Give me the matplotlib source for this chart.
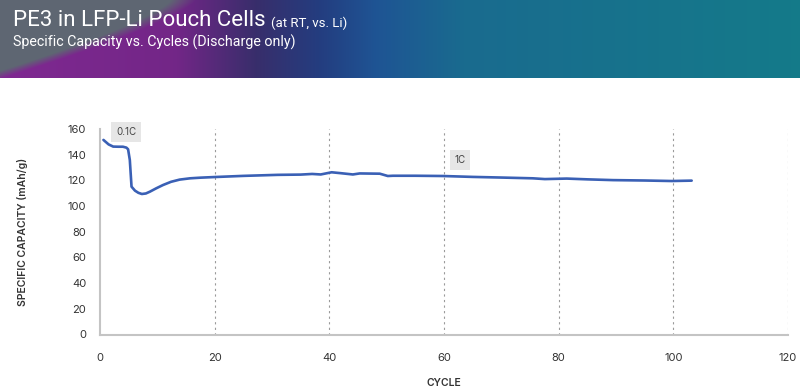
import numpy as np
import matplotlib
matplotlib.use('Agg')
import matplotlib.pyplot as plt

# cycle / specific capacity (mAh/g)
cycles = [0.6, 1.5, 2.3, 3.2, 4.0, 4.6, 4.9, 5.2, 5.5, 6.1, 6.7, 7.3, 8.0, 8.7, 9.8, 11.0,
          12.4, 13.9, 15.7, 17.5, 20, 25, 31, 35, 37, 38.5, 40.4, 42, 44.1, 45.3, 47,
          48.8, 50.2, 51.1, 55, 59.8, 65, 70, 75.5, 77.6, 81.4, 85, 89.5, 95, 99.7, 103.2]
capacity = [151.5, 148.0, 146.3, 146.2, 146.2, 145.5, 144.2, 135.9, 115.1, 112.0, 110.3,
            109.4, 109.8, 111.2, 113.8, 116.4, 118.9, 120.6, 121.6, 122.1, 122.6, 123.5,
            124.3, 124.5, 125.0, 124.6, 126.3, 125.6, 124.6, 125.4, 125.3, 125.2, 123.4,
            123.6, 123.6, 123.4, 122.7, 122.2, 121.6, 121.0, 121.4, 120.8, 120.2, 119.9,
            119.5, 119.8]

x_ticks = [0, 20, 40, 60, 80, 100, 120]
y_ticks = [0, 20, 40, 60, 80, 100, 120, 140, 160]

fig = plt.figure(figsize=(8, 3.92), dpi=100)

# header banner (gradient)
ban = fig.add_axes([0, 1 - 78 / 392, 1, 78 / 392])
W, H = 800, 78
xs = np.linspace(0, 1, W)
stops = [0.0, 0.22, 0.32, 0.40, 0.47, 0.58, 1.0]
cols = np.array([[0.50, 0.16, 0.57], [0.45, 0.15, 0.53], [0.22, 0.18, 0.42],
                 [0.14, 0.24, 0.50], [0.12, 0.33, 0.58], [0.10, 0.42, 0.56],
                 [0.08, 0.48, 0.54]])
row = np.stack([np.interp(xs, stops, cols[:, k]) for k in range(3)], axis=-1)
img = np.repeat(row[None, :, :], H, axis=0)
yy, xx = np.mgrid[0:H, 0:W]
edge = 195 * (1 - (yy / H) ** 1.3)
m = np.clip((edge - xx) / 25.0, 0, 1)[..., None]
gray = np.array([0.37, 0.40, 0.45])
img = img * (1 - m) + gray * m
ban.imshow(img, aspect='auto', extent=[0, W, H, 0])
ban.set_xlim(0, W)
ban.set_ylim(H, 0)
ban.axis('off')
ban.text(13, 21, 'PE3 in LFP-Li Pouch Cells', color='white', fontsize=16,
         family='Roboto', va='center', ha='left')
ban.text(271, 23, '(at RT, vs. Li)', color='white', fontsize=9.5,
         family='Roboto', va='center', ha='left')
ban.text(13, 42, 'Specific Capacity vs. Cycles (Discharge only)', color='white',
         fontsize=10.3, family='Roboto', va='center', ha='left')

# main chart
ax = fig.add_axes([100 / 800, 1 - 334.5 / 392, 688 / 800, 205.5 / 392])
ax.plot(cycles, capacity, color='#3a60b5', lw=1.9, solid_capstyle='round')
ax.set_xlim(0, 120)
ax.set_ylim(0, 160)
ax.set_xticks(x_ticks)
ax.set_yticks(y_ticks)
for xv in x_ticks[1:]:
    ax.axvline(xv, color='#9a9a9a', lw=0.8, ls=(0, (2, 3)), zorder=0)
for s in ['top', 'right']:
    ax.spines[s].set_visible(False)
for s in ['left', 'bottom']:
    ax.spines[s].set_color('#c4c4c4')
    ax.spines[s].set_linewidth(1.5)
ax.tick_params(length=0, labelsize=8, colors='#333333')
ax.tick_params(axis='x', pad=13)
ax.tick_params(axis='y', pad=10)
for lab in ax.get_xticklabels() + ax.get_yticklabels():
    lab.set_family('Inter')
ax.set_xlabel('CYCLE', fontsize=7.5, color='#333333', labelpad=11,
              family='Inter', fontweight='semibold')
ax.set_ylabel('SPECIFIC CAPACITY (mAh/g)', fontsize=7.5, color='#333333',
              labelpad=28, family='Inter', fontweight='semibold')

box = dict(boxstyle='square,pad=0.5', fc='#e6e6e6', ec='none')
ax.text(4.6, 157.5, '0.1C', fontsize=7, color='#444444', ha='center', va='center',
        bbox=box, family='Inter')
ax.text(62.8, 136, '1C', fontsize=7, color='#444444', ha='center', va='center',
        bbox=box, family='Inter')

fig.savefig('out.png', dpi=100)
